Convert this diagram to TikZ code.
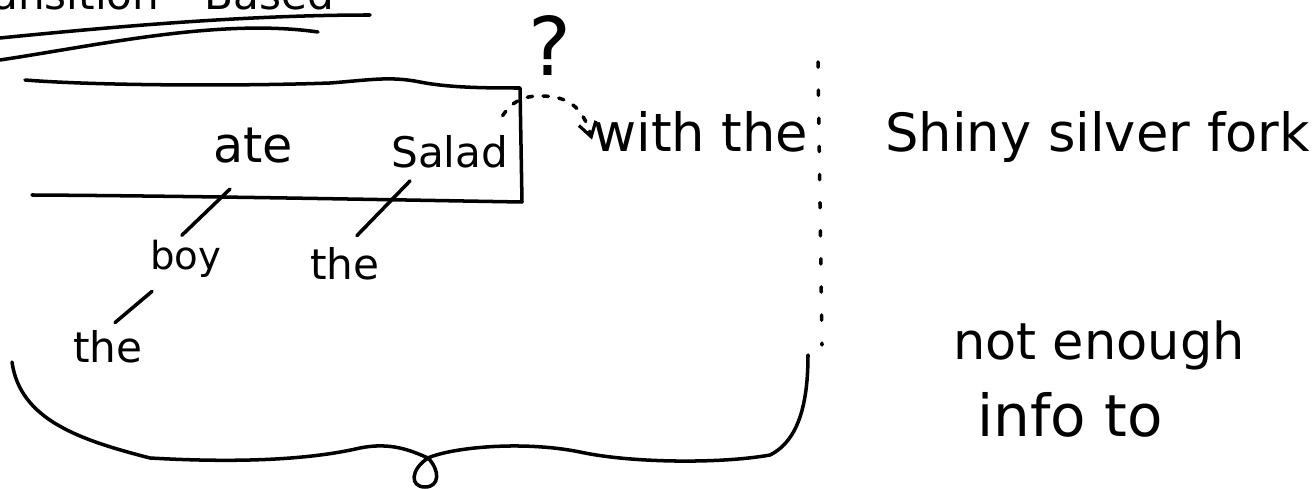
\documentclass[tikz,border=0pt]{standalone}
\usepackage{fontspec}
\setmainfont{DejaVu Sans}
\usetikzlibrary{calc,arrows.meta}
\tikzset{
  hand/.style={line width=2pt, line cap=round, line join=round},
  word/.style={inner sep=0pt, anchor=base west, font=\fontsize{#1}{#1}\selectfont},
  dividerline/.style={line width=2pt, line cap=round, dash pattern=on 3pt off 13pt},
  dotarrow/.style={line width=2pt, line cap=round, dash pattern=on 3pt off 6pt,
    -{Straight Barb[length=8pt,width=10pt,line width=1.8pt]}},
}
\begin{document}
\begin{tikzpicture}[x=0.02cm,y=-0.02cm]
\useasboundingbox (0,0) rectangle (1313,489);

% title (cut off at the top edge, as in the reference)
\node[word=24] (title) at (-45,10) {Transition\hspace{26pt}Based};
\draw[hand] (0,38) .. controls (120,26) and (250,15) .. (370,15);
\draw[hand] (0,60) .. controls (100,45) and (220,18) .. (318,32);

% stack box
\draw[hand] (25,80) .. controls (100,86) and (250,86) .. (330,83)
  .. controls (370,80) and (390,76) .. (420,82)
  .. controls (450,88) and (490,88) .. (520,88) -- (522,202)
  .. controls (400,200) and (200,196) .. (32,195);

% words
\node[word=28] (ate) at (213,163) {ate};
\node[word=24] (salad) at (391,168) {Salad};
\node[word=22] (boy) at (150,270) {boy};
\node[word=24] (the1) at (310,280) {the};
\node[word=24] (the2) at (73,363) {the};
\node[word=30] (with) at (593,152) {with the};
\node[word=30] (shiny) at (885,152) {Shiny silver fork};
\node[word=29] (notenough) at (953,360) {not enough};
\node[word=33] (info) at (977,437) {info to};
\node[inner sep=0pt, font=\fontsize{46}{46}\selectfont] (q) at (550,46) {?};

% dependency arcs
\draw[hand] ($(ate.south west)+(17,25)$) -- ($(boy.north)+(-4,-5)$);
\draw[hand] ($(salad.south west)+(19,12)$) -- ($(the1.north)+(12,-12)$);
\draw[hand] ($(boy.south west)+(2,13)$) -- ($(the2.north west)+(42,-8)$);

% dotted arrow salad -> with
\draw[dotarrow] ($(salad.north east)+(-6,-20)$) .. controls (512,102) and (522,96) .. (540,96)
  .. controls (565,96) and (582,104) .. ($(with.north west)+(-1,28)$);

% divider
\draw[dividerline] (818,62) -- (822,345);

% brace
\draw[hand] (12,362) .. controls (20,420) and (80,440) .. (150,458)
  .. controls (220,462) and (300,462) .. (360,448)
  .. controls (390,442) and (410,450) .. (428,458)
  .. controls (410,470) and (410,487) .. (425,487)
  .. controls (440,487) and (440,470) .. (428,458)
  .. controls (450,448) and (520,440) .. (580,452)
  .. controls (630,463) and (720,464) .. (770,455)
  .. controls (800,440) and (808,400) .. (808,355);
\end{tikzpicture}
\end{document}
